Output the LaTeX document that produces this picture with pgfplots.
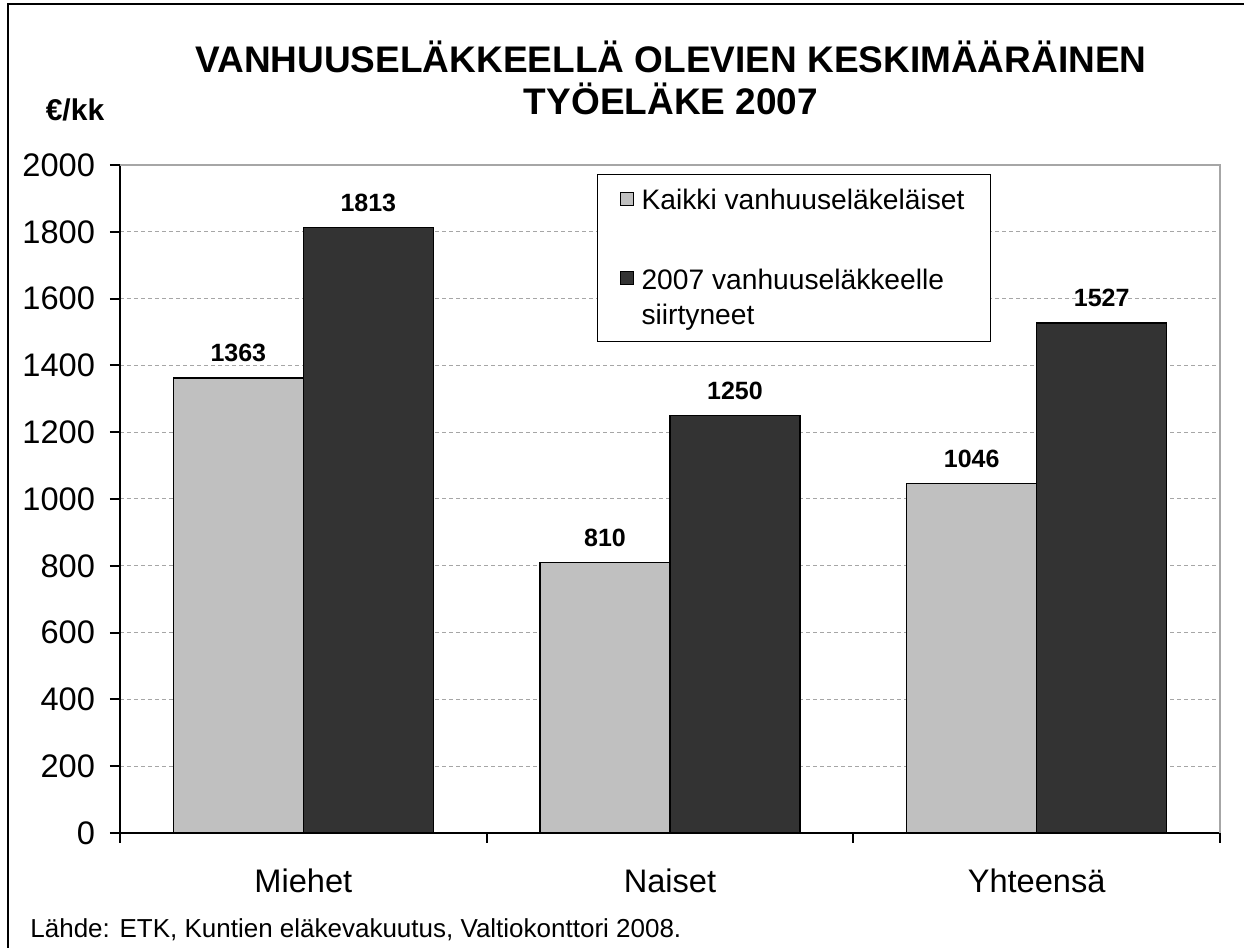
\documentclass[border=0pt]{standalone}
\usepackage{pgfplots}
\pgfplotsset{compat=1.18}
\usepackage{fontspec}
\setmainfont{Liberation Sans}
\definecolor{barlight}{HTML}{C0C0C0}
\definecolor{bardark}{HTML}{333333}
\definecolor{gridgray}{HTML}{A6A6A6}

\begin{document}
\begin{tikzpicture}
\path[use as bounding box] (0,0) rectangle (622pt,474pt);
\draw[line width=1pt] (4pt,-5pt) -- (4pt,472pt) -- (630pt,472pt);

\node[anchor=base, font=\fontsize{18.5}{22}\selectfont\bfseries] at (335.5pt,437.5pt) {VANHUUSELÄKKEELLÄ OLEVIEN KESKIMÄÄRÄINEN};
\node[anchor=base, font=\fontsize{18.5}{22}\selectfont\bfseries] at (335.5pt,416.5pt) {TYÖELÄKE 2007};
\node[anchor=base, font=\fontsize{15}{17}\selectfont\bfseries] at (37.5pt,413.5pt) {€/kk};
\node[anchor=base west, inner sep=0pt, font=\fontsize{13}{15}\selectfont] at (15pt,5pt) {Lähde: ETK, Kuntien eläkevakuutus, Valtiokonttori 2008.};

\begin{axis}[
  at={(60pt,57.5pt)}, anchor=south west,
  scale only axis, width=550pt, height=334pt,
  ybar=0pt, bar width=0.3545,
  xmin=-0.5, xmax=2.5, ymin=0, ymax=2000,
  axis x line*=bottom, axis y line*=left,
  axis line style={line width=1pt},
  xtick={-0.5,0.5,1.5,2.5}, xticklabels={},
  extra x ticks={0,1,2}, extra x tick labels={Miehet,Naiset,Yhteensä},
  extra x tick style={grid=none, major tick length=0pt,
    xticklabel style={font=\fontsize{16.3}{19}\selectfont, yshift=-14.5pt}},
  ytick={0,200,...,2000},
  tick align=outside, major tick length=5pt,
  tick style={line width=1pt, black},
  yticklabel style={font=\fontsize{16.3}{19}\selectfont, xshift=-4pt, /pgf/number format/assume math mode=true, /pgf/number format/1000 sep={}},
  ymajorgrids, major grid style={dash pattern=on 2pt off 1.5pt, gridgray, line width=0.5pt},
  nodes near coords,
  every node near coord/.append style={font=\fontsize{12.5}{14}\selectfont\bfseries, anchor=base, yshift=8pt, /pgf/number format/assume math mode=true, /pgf/number format/1000 sep={}},
  legend cell align=left,
  legend style={at={(0.4336,0.9865)}, anchor=north west, draw=black, line width=0.6pt, fill=white,
    font=\fontsize{14.1}{17.5}\selectfont, inner xsep=11pt, inner ysep=5pt, row sep=23.9pt, column sep=2pt,
    cells={anchor=north west, align=left, inner ysep=2.5pt}},
  legend image code/.code={\draw[#1, line width=0.5pt] (0pt,-10.2pt) rectangle (6.5pt,-3.7pt);},
  clip=false,
]
\addplot[fill=barlight, draw=black, line width=0.8pt] coordinates {(0,1363) (1,810) (2,1046)};
\addplot[fill=bardark, draw=black, line width=0.8pt] coordinates {(0,1813) (1,1250) (2,1527)};
\legend{Kaikki vanhuuseläkeläiset, {2007 vanhuuseläkkeelle\\siirtyneet}}
\draw[gridgray, line width=0.8pt] (rel axis cs:0,1) -- (rel axis cs:1,1) -- (rel axis cs:1,0);
\end{axis}
\end{tikzpicture}
\end{document}
